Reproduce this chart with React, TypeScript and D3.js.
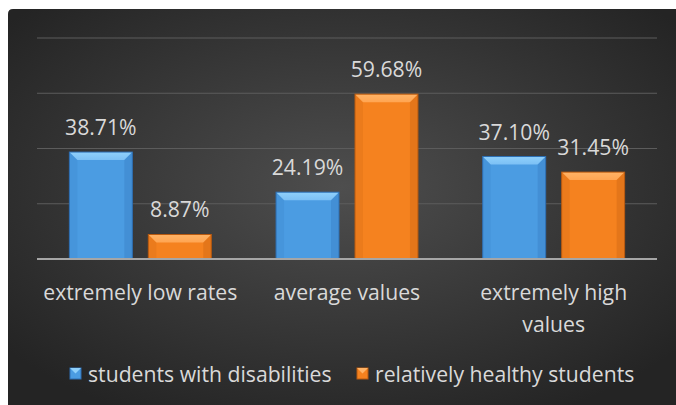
import React from "react";
import * as d3 from "d3";

const categories: string[][] = [["extremely low rates"], ["average values"], ["extremely high", "values"]];
const categoryKeys = ["low", "average", "high"];
const seriesNames = ["students with disabilities", "relatively healthy students"];
const disabled = [38.71, 24.19, 37.1];
const healthy = [8.87, 59.68, 31.45];
const yTicks = [0, 20, 40, 60, 80];

const W = 676;
const H = 405;
const FONT = "'Open Sans', sans-serif";
const FS = 21.2;
const TEXT = "#d9d9d9";

const palettes = [
  { main: "#4b9ce2", light: "#7cc0f5", dark: "#2e6fb3", top: "#8fd0fb" },
  { main: "#f5821f", light: "#ffa552", dark: "#b85a10", top: "#ffb366" },
];

export default function App() {
  const x0 = d3.scaleBand<string>().domain(categoryKeys).range([37, 657]).padding(0);
  const x1 = d3
    .scaleBand<string>()
    .domain(["0", "1"])
    .range([0, x0.bandwidth()])
    .paddingInner(0.2025)
    .paddingOuter(0.41);
  const y = d3.scaleLinear().domain([0, 80]).range([259, 38]);
  const series = [disabled, healthy];
  const bw = x1.bandwidth();

  const bar = (si: number, ci: number) => {
    const v = series[si][ci];
    const x = x0(categoryKeys[ci])! + x1(String(si))!;
    const yt = y(v);
    const yb = y(0);
    const p = palettes[si];
    const b = 8;
    return (
      <g key={`${si}-${ci}`}>
        <rect x={x} y={yt} width={bw} height={yb - yt} fill={p.main} />
        <polygon
          points={`${x},${yt} ${x + bw},${yt} ${x + bw - b},${yt + b} ${x + b},${yt + b}`}
          fill={`url(#top${si})`}
        />
        <polygon
          points={`${x},${yt} ${x + b},${yt + b} ${x + b},${yb} ${x},${yb}`}
          fill={p.dark}
          opacity={0.15}
        />
        <polygon
          points={`${x + bw},${yt} ${x + bw - b},${yt + b} ${x + bw - b},${yb} ${x + bw},${yb}`}
          fill={p.dark}
          opacity={0.28}
        />
        <rect x={x} y={yt} width={bw} height={yb - yt} fill="none" stroke={p.dark} strokeWidth={1} />
        <text x={x + bw / 2} y={yt - 17} textAnchor="middle" fill={TEXT} fontFamily={FONT} fontSize={FS}>
          {v.toFixed(2)}%
        </text>
      </g>
    );
  };

  return (
    <div style={{ position: "fixed", left: 0, top: 0, width: W, height: H, background: "#fff" }}>
      <svg width={W} height={H} style={{ display: "block" }}>
        <defs>
          <radialGradient id="bg" cx="0.5" cy="0.45" r="0.65">
            <stop offset="0" stopColor="#4e4e4e" />
            <stop offset="1" stopColor="#242424" />
          </radialGradient>
          {palettes.map((p, i) => (
            <linearGradient key={`t${i}`} id={`top${i}`} x1="0" y1="0" x2="0" y2="1">
              <stop offset="0" stopColor={p.top} />
              <stop offset="1" stopColor={p.light} />
            </linearGradient>
          ))}
        </defs>
        <path d={`M8,${H} L8,14 Q8,9 13,9 L${W},9 L${W},${H} Z`} fill="url(#bg)" />
        {yTicks.slice(1).map((t) => (
          <line key={t} x1={37} x2={657} y1={y(t)} y2={y(t)} stroke="#5c5c5c" strokeWidth={1.2} />
        ))}
        {categoryKeys.map((_, ci) => [0, 1].map((si) => bar(si, ci)))}
        <line x1={37} x2={657} y1={y(0)} y2={y(0)} stroke="#a6a6a6" strokeWidth={2} />
        {categories.map((lines, ci) => {
          const cx = x0(categoryKeys[ci])! + x0.bandwidth() / 2;
          return (
            <text key={ci} x={cx} y={300} textAnchor="middle" fill={TEXT} fontFamily={FONT} fontSize={FS}>
              {lines.map((l, li) => (
                <tspan key={li} x={cx} dy={li === 0 ? 0 : 32}>
                  {l}
                </tspan>
              ))}
            </text>
          );
        })}
        {seriesNames.map((n, i) => {
          const lx = i === 0 ? 70 : 357;
          const p = palettes[i];
          return (
            <g key={n}>
              <rect x={lx} y={368} width={11} height={11} fill={p.main} stroke={p.dark} strokeWidth={1} />
              <polygon points={`${lx},368 ${lx + 11},368 ${lx + 5.5},373.5`} fill={p.top} />
              <text x={lx + 18} y={382} fill={TEXT} fontFamily={FONT} fontSize={FS}>
                {n}
              </text>
            </g>
          );
        })}
      </svg>
    </div>
  );
}
